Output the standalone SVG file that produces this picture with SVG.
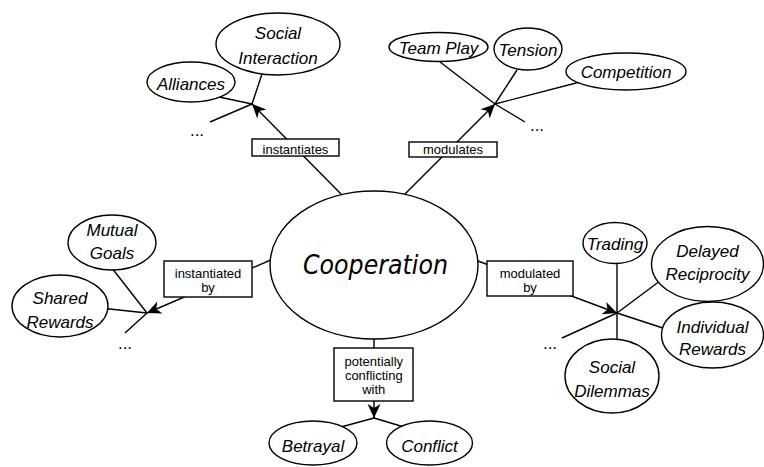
<svg xmlns="http://www.w3.org/2000/svg" width="764" height="467" viewBox="0 0 764 467">
<style>
.n{fill:#fff;stroke:#000;stroke-width:1.4}
.c{fill:none;stroke:#000;stroke-width:1.4}
.b{fill:#fff;stroke:#000;stroke-width:1.4}
.t{font-family:"Liberation Sans",Arial,sans-serif;font-style:italic;font-size:17px;text-anchor:middle;fill:#000}
.l{font-family:"Liberation Sans",Arial,sans-serif;font-size:13px;text-anchor:middle;fill:#000}
.d{font-family:"Liberation Sans",Arial,sans-serif;font-size:17px;text-anchor:middle;fill:#000}
</style>
<defs>
<marker id="arr" markerUnits="userSpaceOnUse" viewBox="-15 -8 16 16" markerWidth="16" markerHeight="16" refX="0" refY="0" orient="auto">
<path d="M0,0 L-14,-6.5 L-10,0 L-14,6.5 Z" fill="#000"/>
</marker>
</defs>
<g id="connectors">
<line class="c" x1="266" y1="62" x2="252" y2="104"/>
<line class="c" x1="205" y1="94" x2="252" y2="104"/>
<line class="c" x1="252" y1="104" x2="210" y2="122"/>
<line class="c" x1="345" y1="198" x2="252" y2="104" marker-end="url(#arr)"/>
<line class="c" x1="440" y1="62" x2="495" y2="104"/>
<line class="c" x1="495" y1="104" x2="525" y2="122"/>
<line class="c" x1="517" y1="70" x2="495" y2="104"/>
<line class="c" x1="580" y1="82" x2="495" y2="104"/>
<line class="c" x1="400" y1="199" x2="495" y2="104" marker-end="url(#arr)"/>
<line class="c" x1="108" y1="263" x2="147" y2="313"/>
<line class="c" x1="100" y1="308" x2="147" y2="313"/>
<line class="c" x1="147" y1="313" x2="125" y2="333"/>
<line class="c" x1="280" y1="256" x2="147" y2="313" marker-end="url(#arr)"/>
<line class="c" x1="617" y1="250" x2="617" y2="350"/>
<line class="c" x1="672" y1="272" x2="617" y2="313"/>
<line class="c" x1="617" y1="313" x2="672" y2="331"/>
<line class="c" x1="617" y1="313" x2="562" y2="338"/>
<line class="c" x1="470" y1="258" x2="617" y2="313" marker-end="url(#arr)"/>
<line class="c" x1="374" y1="330" x2="374" y2="418" marker-end="url(#arr)"/>
<line class="c" x1="374" y1="418" x2="330" y2="430"/>
<line class="c" x1="374" y1="418" x2="414" y2="430"/>
<rect class="b" x="252" y="139" width="87" height="17"/>
<text class="l" x="295.5" y="154">instantiates</text>
<rect class="b" x="409" y="142" width="88" height="15"/>
<text class="l" x="453" y="153.5">modulates</text>
<rect class="b" x="164" y="261" width="88" height="36"/>
<text class="l" x="208" y="278">instantiated</text>
<text class="l" x="208" y="292">by</text>
<rect class="b" x="487" y="261" width="86" height="35"/>
<text class="l" x="530" y="278">modulated</text>
<text class="l" x="530" y="292">by</text>
<rect class="b" x="334" y="348" width="79" height="53"/>
<text class="l" x="373.8" y="366">potentially</text>
<text class="l" x="373.8" y="380">conflicting</text>
<text class="l" x="373.8" y="394">with</text>
<text class="d" x="197" y="136">...</text>
<text class="d" x="537" y="131">...</text>
<text class="d" x="125" y="349">...</text>
<text class="d" x="550" y="349">...</text>
</g>
<g id="cooperation">
<ellipse class="n" cx="374" cy="265" rx="104" ry="74"/>
<text x="375.5" y="274" font-family="'DejaVu Sans Condensed','DejaVu Sans',sans-serif" font-stretch="condensed" font-style="italic" font-size="27" text-anchor="middle" textLength="145" lengthAdjust="spacingAndGlyphs">Cooperation</text>
</g>
<g id="social-interaction">
<ellipse class="n" cx="278" cy="44" rx="62" ry="31"/>
<text class="t" x="278" y="39">Social</text>
<text class="t" x="278" y="64">Interaction</text>
</g>
<g id="alliances">
<ellipse class="n" cx="191" cy="82" rx="44" ry="20"/>
<text class="t" x="191" y="90">Alliances</text>
</g>
<g id="team-play">
<ellipse class="n" cx="438.5" cy="47" rx="49.5" ry="14.5"/>
<text class="t" x="438.5" y="54">Team Play</text>
</g>
<g id="tension">
<ellipse class="n" cx="528" cy="49" rx="34" ry="21"/>
<text class="t" x="528" y="56">Tension</text>
</g>
<g id="competition">
<ellipse class="n" cx="626" cy="71.5" rx="60" ry="18.5"/>
<text class="t" x="626" y="78">Competition</text>
</g>
<g id="mutual-goals">
<ellipse class="n" cx="112" cy="242.5" rx="44" ry="27.5"/>
<text class="t" x="112" y="236">Mutual</text>
<text class="t" x="112" y="259.3">Goals</text>
</g>
<g id="shared-rewards">
<ellipse class="n" cx="60" cy="306" rx="48" ry="31"/>
<text class="t" x="60" y="304.3">Shared</text>
<text class="t" x="60" y="328.3">Rewards</text>
</g>
<g id="trading">
<ellipse class="n" cx="615" cy="243" rx="32" ry="20.5"/>
<text class="t" x="615" y="249.5">Trading</text>
</g>
<g id="delayed-reciprocity">
<ellipse class="n" cx="707.5" cy="264" rx="56" ry="37.5"/>
<text class="t" x="707.5" y="256.7">Delayed</text>
<text class="t" x="707.5" y="280">Reciprocity</text>
</g>
<g id="individual-rewards">
<ellipse class="n" cx="712.5" cy="335" rx="51" ry="33"/>
<text class="t" x="712.5" y="333.3">Individual</text>
<text class="t" x="712.5" y="355">Rewards</text>
</g>
<g id="social-dilemmas">
<ellipse class="n" cx="612" cy="376" rx="47" ry="37"/>
<text class="t" x="612" y="373.3">Social</text>
<text class="t" x="612" y="396.7">Dilemmas</text>
</g>
<g id="betrayal">
<ellipse class="n" cx="313" cy="443" rx="44" ry="22"/>
<text class="t" x="313" y="451.5">Betrayal</text>
</g>
<g id="conflict">
<ellipse class="n" cx="429.5" cy="443" rx="43" ry="22"/>
<text class="t" x="429.5" y="451.5">Conflict</text>
</g>
</svg>
